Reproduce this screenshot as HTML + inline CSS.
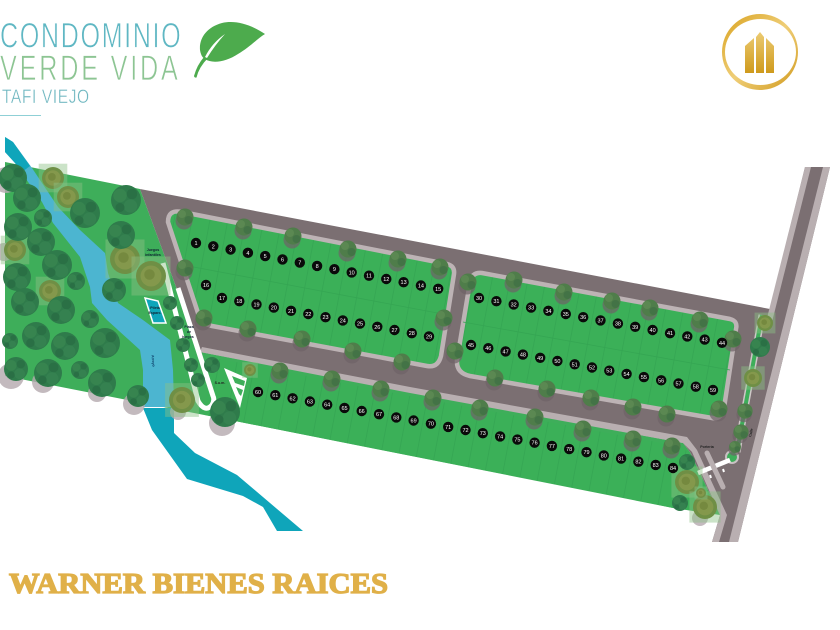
<!DOCTYPE html>
<html><head><meta charset="utf-8"><style>html,body{margin:0;padding:0;background:#fff}svg{display:block}</style></head><body>
<svg xmlns="http://www.w3.org/2000/svg" width="840" height="630" viewBox="0 0 840 630" font-family="'Liberation Sans',sans-serif">
<defs>
<linearGradient id="g" x1="0" y1="0" x2="1" y2="1"><stop offset="0" stop-color="#d9a21f"/><stop offset=".5" stop-color="#efce78"/><stop offset="1" stop-color="#d19a1d"/></linearGradient>
<linearGradient id="b" x1="0" y1="0" x2="0" y2="1"><stop offset="0" stop-color="#eccb72"/><stop offset="1" stop-color="#cf9a1c"/></linearGradient>
<pattern id="p1" width="17.6" height="40" patternUnits="userSpaceOnUse" patternTransform="rotate(10.6)"><rect width="17.6" height="40" fill="#3bb058"/><rect width=".8" height="40" fill="#35a653"/></pattern>
<pattern id="p2" width="17.6" height="40" patternUnits="userSpaceOnUse" patternTransform="rotate(10.6) translate(6.7 0)"><rect width="17.6" height="40" fill="#3bb058"/><rect width=".8" height="40" fill="#35a653"/></pattern>
<g id="t"><circle r="10" fill="#2f7b4b"/><circle cx="-4" cy="-3" r="4.5" fill="#37844f"/><circle cx="4" cy="-4" r="3.5" fill="#2a7045"/><circle cx="3" cy="4" r="4.5" fill="#358150"/><circle cx="-4" cy="5" r="3" fill="#2a6f45"/></g>
<g id="s"><circle cx="-1" cy="4" r="8.5" fill="#6f6266" opacity=".7"/><circle r="8.5" fill="#4f7d4a"/><circle cx="-3" cy="-3" r="4" fill="#5b8852"/><circle cx="3.5" cy="3" r="4" fill="#437346"/></g>
<g id="o"><rect x="-13" y="-13" width="26" height="26" fill="#8cc184" opacity=".45"/><circle r="10" fill="#6f8f45"/><circle r="7" fill="#84984c"/><circle cx="-1" cy="-1" r="3.5" fill="#75893f"/></g>
</defs>

<!-- header -->
<g transform="scale(.72,1)" stroke="#fff" stroke-width=".7">
<text x="0" y="47.5" font-size="35" fill="#5fb7c3" textLength="251" lengthAdjust="spacing">CONDOMINIO</text>
<text x="0" y="80" font-size="35" fill="#8dc593" textLength="247" lengthAdjust="spacing">VERDE VIDA</text>
</g>
<g transform="scale(.8,1)" stroke="#fff" stroke-width=".35"><text x="2.5" y="103" font-size="19.5" fill="#6fb7c0" textLength="109" lengthAdjust="spacing">TAFI VIEJO</text></g>
<rect x="0" y="115" width="41" height="1" fill="#8fd0d6"/>
<path d="M265,34 C250,24 235,20 222,23 C207,27 199,38 200,50 C201,56 203,58 205,59 C212,64 226,62 238,54 C250,47 258,38 265,34Z" fill="#4dab4d"/>
<path d="M204,57 Q197,65 194,76 Q194.5,78 196.5,77.5 Q199,67 208,58Z" fill="#4dab4d"/>
<path d="M205,57 Q212,43 225,34 Q215,45 207,58Z" fill="#fff"/>
<path fill-rule="evenodd" d="M722,52a38,38 0 1,0 76,0a38,38 0 1,0 -76,0ZM725,52a35.5,33 0 1,0 71,0a35.5,33 0 1,0 -71,0Z" fill="url(#g)"/>
<path d="M745,73V46L754,38V73ZM756,73V37L760,32L764,37V73ZM766,73V38L774,46V73Z" fill="url(#b)"/>

<!-- green site -->
<path d="M5,162 L140,189 L200,352 L683,443 L690,452 L720,515 L673,508 L240,422 L5,376Z" fill="#3eae5a"/>
<!-- road network -->
<path d="M140,189 L770,309 L805,167 L830,167 L738,542 L712,542 L720,515 L690,452 L683,443 L200,352Z" fill="#7b6f72"/>
<path d="M805,167 L811,167 L772,322 L766,322Z" fill="#b9afb1"/>
<path d="M823,167 L830,167 L738,542 L729,542Z" fill="#b9afb1"/>
<path d="M200,352 L410,393 L683,443 L692,452 L720,515 L712,542 L719,542 L727,515 L697,450 L687,437 L410,387 L202,347Z" fill="#b9afb1"/>

<!-- lower block -->
<path d="M210,357 L410,396 L683,447 L690,455 L718,514 L673,508 L640,501 L240,422 L205,415Z" fill="url(#p1)"/>

<!-- blocks -->
<path d="M168,222 Q168,209 182,212 L447,264 Q455,266 454,274 L441,356 Q438,368 427,366 L212,326 Q203,324 199,316Z" fill="url(#p1)" stroke="#bdb3b5" stroke-width="4.5"/>
<path d="M457,360 L470,282 Q472,272 482,273 L730,319 Q738,321 736,329 L724,408 Q721,420 712,418 L470,376 Q456,373 457,360Z" fill="url(#p2)" stroke="#bdb3b5" stroke-width="4.5"/>
<path d="M183,265 L448,315M463,322 L730,370" stroke="#35a653" stroke-width=".8" fill="none"/>

<!-- river -->
<path d="M5,137 L13,142 L32,168 L58,207 L80,230 L105,253 L108,273 L118,303 L143,320 L170,340 L173,370 L174,407 L143,407 L143,370 L140,350 L107,320 L92,303 L90,287 L80,257 L53,223 L42,202 L15,163 L5,152Z" fill="#4cb5d0"/>
<path d="M5,137 L13,142 L30,166 L22,172 L15,163 L5,152Z" fill="#0fa5ba"/>
<path d="M143,408 L152,430 L187,479 L243,496 L263,507 L277,531 L303,531 L237,475 L195,453 L174,433 L174,408Z" fill="#0fa5ba"/>

<!-- park strip, pool, SUM -->
<path d="M163,263 L198,401 Q205,413 212,405 Q215,400 213,396 L178,288" fill="none" stroke="#fff" stroke-width="5"/>
<path d="M145,298 L158,301 L166,323 L153,323Z" fill="#0fa5ba" stroke="#fff" stroke-width="1.5"/>
<path d="M224,368 L247,378 L240,408Z" fill="#fff"/>
<path d="M232,376 L245,381 L244,386 L235,383ZM236,387 L243,390 L241,396 L239,394Z" fill="#3eae5a"/>
<g font-size="3.6" fill="#123" text-anchor="middle" font-weight="bold">
<text x="153" y="251">Juegos</text><text x="153" y="256">infantiles</text>
<text x="155" y="309">Pileta</text><text x="155" y="314">Esparc.</text>
<text x="189" y="328">Plaza</text><text x="189" y="333">de</text><text x="188" y="338">juegos</text>
<text x="220" y="384" fill="#222">S.u.m.</text>
<text x="707" y="448" fill="#222">Portería</text>
<text transform="translate(152,361) rotate(85)" fill="#0b3c66">Arroyo</text>
<text transform="translate(752,433) rotate(-76)" fill="#222">Calle</text>
</g>

<!-- gate and median -->
<path d="M762,315 L737,452" stroke="#cfc8c8" stroke-width="7" fill="none"/>
<path d="M762,315 L737,452" stroke="#3eae5a" stroke-width="4" fill="none"/>
<circle cx="732" cy="457" r="6" fill="#3eae5a" stroke="#c9c1c3" stroke-width="2"/>
<path d="M698,473 L730,460" stroke="#fff" stroke-width="4.5"/>
<path d="M707,453 L723,487" stroke="#b9afb1" stroke-width="5" stroke-linecap="round"/>
<path d="M710,475 l1,3M723,469 l1,3" stroke="#fff" stroke-width="2"/>

<!-- tree shadows at site edges -->
<g fill="#b5a9af" opacity=".8">
<circle cx="6" cy="180" r="13"/><circle cx="4" cy="252" r="9"/><circle cx="11" cy="376" r="13"/><circle cx="43" cy="382" r="11"/><circle cx="97" cy="393" r="9"/><circle cx="134" cy="404" r="11"/><circle cx="222" cy="423" r="13"/><circle cx="178" cy="412" r="8"/><circle cx="700" cy="518" r="8"/>
</g>

<!-- olive trees -->
<use href="#o" transform="translate(53 178) scale(1.1)"/><use href="#o" transform="translate(68 197) scale(1.1)"/><use href="#o" transform="translate(15 250) scale(1.1)"/><use href="#o" transform="translate(125 259) scale(1.5)"/><use href="#o" transform="translate(151 276) scale(1.5)"/><use href="#o" transform="translate(50 291) scale(1.1)"/><use href="#o" transform="translate(250 370) scale(.6)"/><use href="#o" transform="translate(182 400) scale(1.3)"/><use href="#o" transform="translate(687 482) scale(1.2)"/><use href="#o" transform="translate(705 507) scale(1.2)"/><use href="#o" transform="translate(701 493) scale(.5)"/><use href="#o" transform="translate(765 323) scale(.8)"/><use href="#o" transform="translate(753 378) scale(.9)"/>

<!-- park trees -->
<use href="#t" transform="translate(13 178) scale(1.4)"/><use href="#t" transform="translate(27 198) scale(1.4)"/><use href="#t" transform="translate(18 227) scale(1.4)"/><use href="#t" transform="translate(43 218) scale(.9)"/><use href="#t" transform="translate(41 242) scale(1.4)"/><use href="#t" transform="translate(57 265) scale(1.5)"/><use href="#t" transform="translate(76 281) scale(.9)"/><use href="#t" transform="translate(17 277) scale(1.4)"/><use href="#t" transform="translate(25 302) scale(1.4)"/><use href="#t" transform="translate(61 310) scale(1.4)"/><use href="#t" transform="translate(90 319) scale(.9)"/><use href="#t" transform="translate(85 213) scale(1.5)"/><use href="#t" transform="translate(126 200) scale(1.5)"/><use href="#t" transform="translate(121 235) scale(1.4)"/><use href="#t" transform="translate(114 290) scale(1.2)"/><use href="#t" transform="translate(10 341) scale(.8)"/><use href="#t" transform="translate(36 336) scale(1.4)"/><use href="#t" transform="translate(65 346) scale(1.4)"/><use href="#t" transform="translate(105 343) scale(1.5)"/><use href="#t" transform="translate(16 369) scale(1.2)"/><use href="#t" transform="translate(48 373) scale(1.4)"/><use href="#t" transform="translate(80 370) scale(.9)"/><use href="#t" transform="translate(102 383) scale(1.4)"/><use href="#t" transform="translate(138 396) scale(1.1)"/><use href="#t" transform="translate(212 365) scale(.8)"/><use href="#t" transform="translate(225 412) scale(1.5)"/><use href="#t" transform="translate(170 303) scale(.7)"/><use href="#t" transform="translate(177 323) scale(.7)"/><use href="#t" transform="translate(183 345) scale(.7)"/><use href="#t" transform="translate(191 365) scale(.7)"/><use href="#t" transform="translate(198 380) scale(.7)"/><use href="#t" transform="translate(680 503) scale(.8)"/><use href="#t" transform="translate(687 462) scale(.8)"/><use href="#t" transform="translate(760 347) scale(1)"/>

<!-- street trees -->
<g>
<use href="#s" transform="translate(185 217)"/><use href="#s" transform="translate(244 227)"/><use href="#s" transform="translate(293 236)"/><use href="#s" transform="translate(348 249)"/><use href="#s" transform="translate(398 259)"/><use href="#s" transform="translate(440 267)"/><use href="#s" transform="translate(185 268)"/><use href="#s" transform="translate(204 318)"/><use href="#s" transform="translate(248 329)"/><use href="#s" transform="translate(302 339)"/><use href="#s" transform="translate(353 351)"/><use href="#s" transform="translate(402 362)"/><use href="#s" transform="translate(444 318)"/>
<use href="#s" transform="translate(468 282)"/><use href="#s" transform="translate(514 280)"/><use href="#s" transform="translate(564 292)"/><use href="#s" transform="translate(612 301)"/><use href="#s" transform="translate(650 308)"/><use href="#s" transform="translate(700 320)"/><use href="#s" transform="translate(455 351)"/><use href="#s" transform="translate(495 378)"/><use href="#s" transform="translate(547 389)"/><use href="#s" transform="translate(591 398)"/><use href="#s" transform="translate(633 407)"/><use href="#s" transform="translate(667 414)"/><use href="#s" transform="translate(719 409)"/><use href="#s" transform="translate(733 339)"/>
<use href="#s" transform="translate(280 371)"/><use href="#s" transform="translate(332 379)"/><use href="#s" transform="translate(381 389)"/><use href="#s" transform="translate(433 398)"/><use href="#s" transform="translate(480 408)"/><use href="#s" transform="translate(535 417)"/><use href="#s" transform="translate(583 429)"/><use href="#s" transform="translate(633 439)"/><use href="#s" transform="translate(672 446)"/>
<use href="#s" transform="translate(745 411) scale(.9)"/><use href="#s" transform="translate(741 432) scale(.9)"/><use href="#s" transform="translate(735 447) scale(.7)"/>
</g>

<!-- lot markers -->
<g fill="#0a0a0a">
<circle cx="196" cy="243" r="5.2"/><circle cx="213.3" cy="246.3" r="5.2"/><circle cx="230.6" cy="249.5" r="5.2"/><circle cx="247.9" cy="252.8" r="5.2"/><circle cx="265.2" cy="256.1" r="5.2"/><circle cx="282.5" cy="259.4" r="5.2"/><circle cx="299.8" cy="262.6" r="5.2"/><circle cx="317.1" cy="265.9" r="5.2"/><circle cx="334.4" cy="269.2" r="5.2"/><circle cx="351.7" cy="272.4" r="5.2"/><circle cx="369" cy="275.7" r="5.2"/><circle cx="386.3" cy="279" r="5.2"/><circle cx="403.6" cy="282.2" r="5.2"/><circle cx="420.9" cy="285.5" r="5.2"/><circle cx="438.2" cy="288.8" r="5.2"/>
<circle cx="206" cy="285" r="5.2"/><circle cx="222" cy="298" r="5.2"/><circle cx="239.3" cy="301.2" r="5.2"/><circle cx="256.5" cy="304.4" r="5.2"/><circle cx="273.8" cy="307.6" r="5.2"/><circle cx="291" cy="310.8" r="5.2"/><circle cx="308.3" cy="314" r="5.2"/><circle cx="325.5" cy="317.2" r="5.2"/><circle cx="342.8" cy="320.4" r="5.2"/><circle cx="360" cy="323.6" r="5.2"/><circle cx="377.3" cy="326.8" r="5.2"/><circle cx="394.5" cy="330" r="5.2"/><circle cx="411.8" cy="333.2" r="5.2"/><circle cx="429" cy="336.4" r="5.2"/>
<circle cx="479" cy="298" r="5.2"/><circle cx="496.4" cy="301.2" r="5.2"/><circle cx="513.7" cy="304.4" r="5.2"/><circle cx="531.1" cy="307.6" r="5.2"/><circle cx="548.4" cy="310.8" r="5.2"/><circle cx="565.8" cy="314" r="5.2"/><circle cx="583.2" cy="317.2" r="5.2"/><circle cx="600.5" cy="320.4" r="5.2"/><circle cx="617.9" cy="323.6" r="5.2"/><circle cx="635.2" cy="326.8" r="5.2"/><circle cx="652.6" cy="330" r="5.2"/><circle cx="670" cy="333.2" r="5.2"/><circle cx="687.3" cy="336.4" r="5.2"/><circle cx="704.7" cy="339.6" r="5.2"/><circle cx="722" cy="342.8" r="5.2"/>
<circle cx="471" cy="345" r="5.2"/><circle cx="488.3" cy="348.2" r="5.2"/><circle cx="505.6" cy="351.4" r="5.2"/><circle cx="522.9" cy="354.6" r="5.2"/><circle cx="540.2" cy="357.8" r="5.2"/><circle cx="557.4" cy="361" r="5.2"/><circle cx="574.7" cy="364.3" r="5.2"/><circle cx="592" cy="367.5" r="5.2"/><circle cx="609.3" cy="370.7" r="5.2"/><circle cx="626.6" cy="373.9" r="5.2"/><circle cx="643.9" cy="377.1" r="5.2"/><circle cx="661.2" cy="380.3" r="5.2"/><circle cx="678.5" cy="383.5" r="5.2"/><circle cx="695.8" cy="386.7" r="5.2"/><circle cx="713" cy="390" r="5.2"/>
<circle cx="258" cy="392" r="5.2"/><circle cx="275.3" cy="395.2" r="5.2"/><circle cx="292.6" cy="398.3" r="5.2"/><circle cx="309.9" cy="401.5" r="5.2"/><circle cx="327.2" cy="404.7" r="5.2"/><circle cx="344.5" cy="407.9" r="5.2"/><circle cx="361.7" cy="411" r="5.2"/><circle cx="379" cy="414.2" r="5.2"/><circle cx="396.3" cy="417.4" r="5.2"/><circle cx="413.6" cy="420.5" r="5.2"/><circle cx="430.9" cy="423.7" r="5.2"/><circle cx="448.2" cy="426.9" r="5.2"/><circle cx="465.5" cy="430" r="5.2"/><circle cx="482.8" cy="433.2" r="5.2"/><circle cx="500.1" cy="436.4" r="5.2"/><circle cx="517.4" cy="439.6" r="5.2"/><circle cx="534.6" cy="442.7" r="5.2"/><circle cx="551.9" cy="445.9" r="5.2"/><circle cx="569.2" cy="449.1" r="5.2"/><circle cx="586.5" cy="452.2" r="5.2"/><circle cx="603.8" cy="455.4" r="5.2"/><circle cx="621.1" cy="458.6" r="5.2"/><circle cx="638.4" cy="461.7" r="5.2"/><circle cx="655.7" cy="464.9" r="5.2"/><circle cx="673" cy="468" r="5.2"/>
</g>
<g fill="#fff" font-size="5.5" text-anchor="middle">
<text x="196" y="245">1</text><text x="213.3" y="248.3">2</text><text x="230.6" y="251.5">3</text><text x="247.9" y="254.8">4</text><text x="265.2" y="258.1">5</text><text x="282.5" y="261.4">6</text><text x="299.8" y="264.6">7</text><text x="317.1" y="267.9">8</text><text x="334.4" y="271.2">9</text><text x="351.7" y="274.4">10</text><text x="369" y="277.7">11</text><text x="386.3" y="281">12</text><text x="403.6" y="284.2">13</text><text x="420.9" y="287.5">14</text><text x="438.2" y="290.8">15</text>
<text x="206" y="287">16</text><text x="222" y="300">17</text><text x="239.3" y="303.2">18</text><text x="256.5" y="306.4">19</text><text x="273.8" y="309.6">20</text><text x="291" y="312.8">21</text><text x="308.3" y="316">22</text><text x="325.5" y="319.2">23</text><text x="342.8" y="322.4">24</text><text x="360" y="325.6">25</text><text x="377.3" y="328.8">26</text><text x="394.5" y="332">27</text><text x="411.8" y="335.2">28</text><text x="429" y="338.4">29</text>
<text x="479" y="300">30</text><text x="496.4" y="303.2">31</text><text x="513.7" y="306.4">32</text><text x="531.1" y="309.6">33</text><text x="548.4" y="312.8">34</text><text x="565.8" y="316">35</text><text x="583.2" y="319.2">36</text><text x="600.5" y="322.4">37</text><text x="617.9" y="325.6">38</text><text x="635.2" y="328.8">39</text><text x="652.6" y="332">40</text><text x="670" y="335.2">41</text><text x="687.3" y="338.4">42</text><text x="704.7" y="341.6">43</text><text x="722" y="344.8">44</text>
<text x="471" y="347">45</text><text x="488.3" y="350.2">46</text><text x="505.6" y="353.4">47</text><text x="522.9" y="356.6">48</text><text x="540.2" y="359.8">49</text><text x="557.4" y="363">50</text><text x="574.7" y="366.3">51</text><text x="592" y="369.5">52</text><text x="609.3" y="372.7">53</text><text x="626.6" y="375.9">54</text><text x="643.9" y="379.1">55</text><text x="661.2" y="382.3">56</text><text x="678.5" y="385.5">57</text><text x="695.8" y="388.7">58</text><text x="713" y="392">59</text>
<text x="258" y="394">60</text><text x="275.3" y="397.2">61</text><text x="292.6" y="400.3">62</text><text x="309.9" y="403.5">63</text><text x="327.2" y="406.7">64</text><text x="344.5" y="409.9">65</text><text x="361.7" y="413">66</text><text x="379" y="416.2">67</text><text x="396.3" y="419.4">68</text><text x="413.6" y="422.5">69</text><text x="430.9" y="425.7">70</text><text x="448.2" y="428.9">71</text><text x="465.5" y="432">72</text><text x="482.8" y="435.2">73</text><text x="500.1" y="438.4">74</text><text x="517.4" y="441.6">75</text><text x="534.6" y="444.7">76</text><text x="551.9" y="447.9">77</text><text x="569.2" y="451.1">78</text><text x="586.5" y="454.2">79</text><text x="603.8" y="457.4">80</text><text x="621.1" y="460.6">81</text><text x="638.4" y="463.7">82</text><text x="655.7" y="466.9">83</text><text x="673" y="470">84</text>
</g>

<!-- footer -->
<text x="9" y="593" font-family="'Liberation Serif',serif" font-weight="bold" font-size="28" fill="#e0b048" stroke="#e0b048" stroke-width="1.3" textLength="379" lengthAdjust="spacingAndGlyphs">WARNER BIENES RAICES</text>
</svg>
</body></html>
